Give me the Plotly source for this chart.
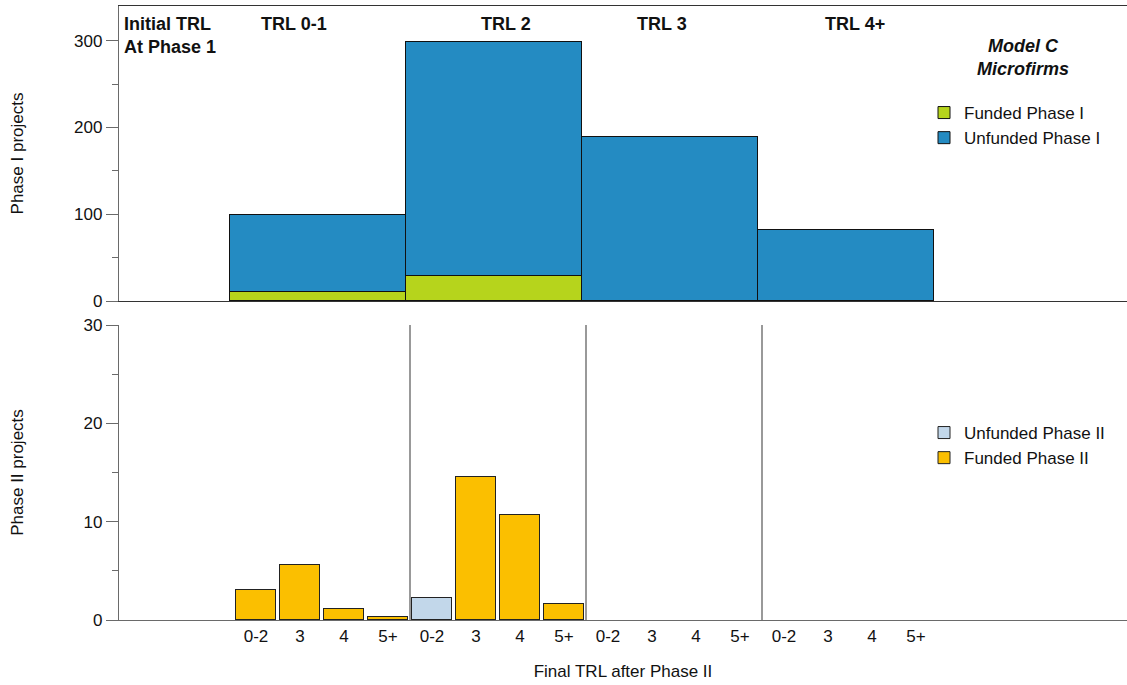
import plotly.graph_objects as go

# ---------------- data ----------------
initial_trl = ["TRL 0-1", "TRL 2", "TRL 3", "TRL 4+"]
funded_phase1 = [10, 29, 0, 0]
unfunded_phase1 = [89, 269, 189, 82]

final_trl = ["0-2", "3", "4", "5+"]
# one list per initial-TRL group, values per final TRL
unfunded_phase2 = [[0, 0, 0, 0], [2.2, 0, 0, 0], [0, 0, 0, 0], [0, 0, 0, 0]]
funded_phase2 = [[3.1, 5.6, 1.1, 0.3], [0, 14.5, 10.7, 1.6], [0, 0, 0, 0], [0, 0, 0, 0]]

y1_tickvals = [0, 100, 200, 300]
y2_tickvals = [0, 10, 20, 30]

# ---------------- colours / style ----------------
GREEN = "#B6D41C"
BLUE = "#248BC2"
LIGHTBLUE = "#C2D7EA"
YELLOW = "#FBBF00"
AXIS = "#6a6a6a"
FONT = "Liberation Sans, Arial, Helvetica, sans-serif"

W, H = 1127, 685
ML, MR, MT, MB = 119, 0, 6, 65
PW, PH = W - ML - MR, H - MT - MB


def px2x(px):
    return (px - ML) / PW


def px2y(py):
    return (H - MB - py) / PH


def blank_zero(vals):
    # zero-height bars are not drawn in the reference
    return [v if v else None for v in vals]


# positions derived from category indices
grp_x = list(range(len(initial_trl)))
sub_w = 0.25
bar_w2 = 0.227
x2_pos, x2_lab, unf2, fun2 = [], [], [], []
for i in range(len(initial_trl)):
    for j, lab in enumerate(final_trl):
        x2_pos.append(i + (j - 1.5) * sub_w)
        x2_lab.append(lab)
        unf2.append(unfunded_phase2[i][j])
        fun2.append(funded_phase2[i][j])

fig = go.Figure()

fig.add_trace(go.Bar(
    x=grp_x, y=blank_zero(funded_phase1), width=1, name="Funded Phase I",
    marker=dict(color=GREEN, line=dict(color="#111", width=1)),
    xaxis="x", yaxis="y", legend="legend"))
fig.add_trace(go.Bar(
    x=grp_x, y=blank_zero(unfunded_phase1), width=1, name="Unfunded Phase I",
    marker=dict(color=BLUE, line=dict(color="#111", width=1)),
    xaxis="x", yaxis="y", legend="legend"))
fig.add_trace(go.Bar(
    x=x2_pos, y=blank_zero(unf2), width=bar_w2, name="Unfunded Phase II",
    marker=dict(color=LIGHTBLUE, line=dict(color="#222", width=1)),
    xaxis="x2", yaxis="y2", legend="legend2"))
fig.add_trace(go.Bar(
    x=x2_pos, y=blank_zero(fun2), width=bar_w2, name="Funded Phase II",
    marker=dict(color=YELLOW, line=dict(color="#222", width=1)),
    xaxis="x2", yaxis="y2", legend="legend2"))

top_dom = [px2y(301), 1.0]
bot_dom = [0.0, px2y(325)]

# x ranges so that bars land where the reference places them
x1_range = [-(318 - ML) / 176, (W - MR - 318) / 176]
x2_range = [-(322 - ML) / 176, (W - MR - 322) / 176]

fig.update_layout(
    width=W, height=H,
    margin=dict(l=ML, r=MR, t=MT, b=MB),
    paper_bgcolor="white", plot_bgcolor="white",
    barmode="stack", bargap=0,
    font=dict(family=FONT, size=17, color="#111"),
    xaxis=dict(domain=[0, 1], anchor="y", range=x1_range, showticklabels=False,
               ticks="", showgrid=False, zeroline=False, showline=True,
               linecolor="#333", linewidth=1.3, mirror=True),
    yaxis=dict(domain=top_dom, anchor="x", range=[0, 340], tickvals=y1_tickvals,
               ticks="outside", ticklen=12, tickcolor=AXIS, tickwidth=1.3,
               minor=dict(dtick=50, ticks="outside", ticklen=6, tickcolor=AXIS, tickwidth=1.3),
               showgrid=False, zeroline=False, showline=True, linecolor=AXIS, linewidth=1.3,
               tickfont=dict(size=17),
               title=dict(text="Phase I projects", font=dict(size=17), standoff=46),
               automargin=False),
    xaxis2=dict(domain=[0, 1], anchor="y2", range=x2_range, tickvals=x2_pos, ticktext=x2_lab,
                ticks="", showgrid=False, zeroline=False, showline=True,
                linecolor=AXIS, linewidth=1.3, tickfont=dict(size=17),
                title=dict(text="Final TRL after Phase II", font=dict(size=17), standoff=20),
                automargin=False),
    yaxis2=dict(domain=bot_dom, anchor="x2", range=[0, 30], tickvals=y2_tickvals,
                ticks="outside", ticklen=12, tickcolor=AXIS, tickwidth=1.3,
                minor=dict(dtick=5, ticks="outside", ticklen=6, tickcolor=AXIS, tickwidth=1.3),
                showgrid=False, zeroline=False, showline=True, linecolor=AXIS, linewidth=1.3,
                tickfont=dict(size=17),
                title=dict(text="Phase II projects", font=dict(size=17), standoff=55),
                automargin=False),
    legend=dict(x=px2x(924), y=px2y(95), xanchor="left", yanchor="top",
                bgcolor="rgba(0,0,0,0)", font=dict(size=17), traceorder="normal",
                tracegroupgap=0),
    legend2=dict(x=px2x(924), y=px2y(415), xanchor="left", yanchor="top",
                 bgcolor="rgba(0,0,0,0)", font=dict(size=17), traceorder="normal",
                 tracegroupgap=0),
    showlegend=True,
)

# separators between initial-TRL groups in the lower panel
for i in range(len(initial_trl) - 1):
    fig.add_shape(type="line", xref="x2", yref="y2 domain", x0=i + 0.5, x1=i + 0.5,
                  y0=0, y1=1, line=dict(color="#555", width=1.2))

# header annotations
ann_font = dict(family=FONT, size=18, color="#111")
fig.add_annotation(text="<b>Initial TRL<br>At Phase 1</b>", xref="paper", yref="paper",
                   x=px2x(122), y=px2y(12), xanchor="left", yanchor="top", align="left",
                   showarrow=False, font=ann_font)
label_px = [294, 506, 662, 855]
for lab, xp in zip(initial_trl, label_px):
    fig.add_annotation(text=f"<b>{lab}</b>", xref="paper", yref="paper",
                       x=px2x(xp), y=px2y(24), xanchor="center", yanchor="middle",
                       showarrow=False, font=ann_font)
fig.add_annotation(text="<b><i>Model C<br>Microfirms</i></b>", xref="paper", yref="paper",
                   x=px2x(1023), y=px2y(34), xanchor="center", yanchor="top", align="center",
                   showarrow=False, font=ann_font)

fig.write_html("out.html", config={"displayModeBar": False},
               post_script="document.body.style.margin='0';document.body.style.overflow='hidden';")
